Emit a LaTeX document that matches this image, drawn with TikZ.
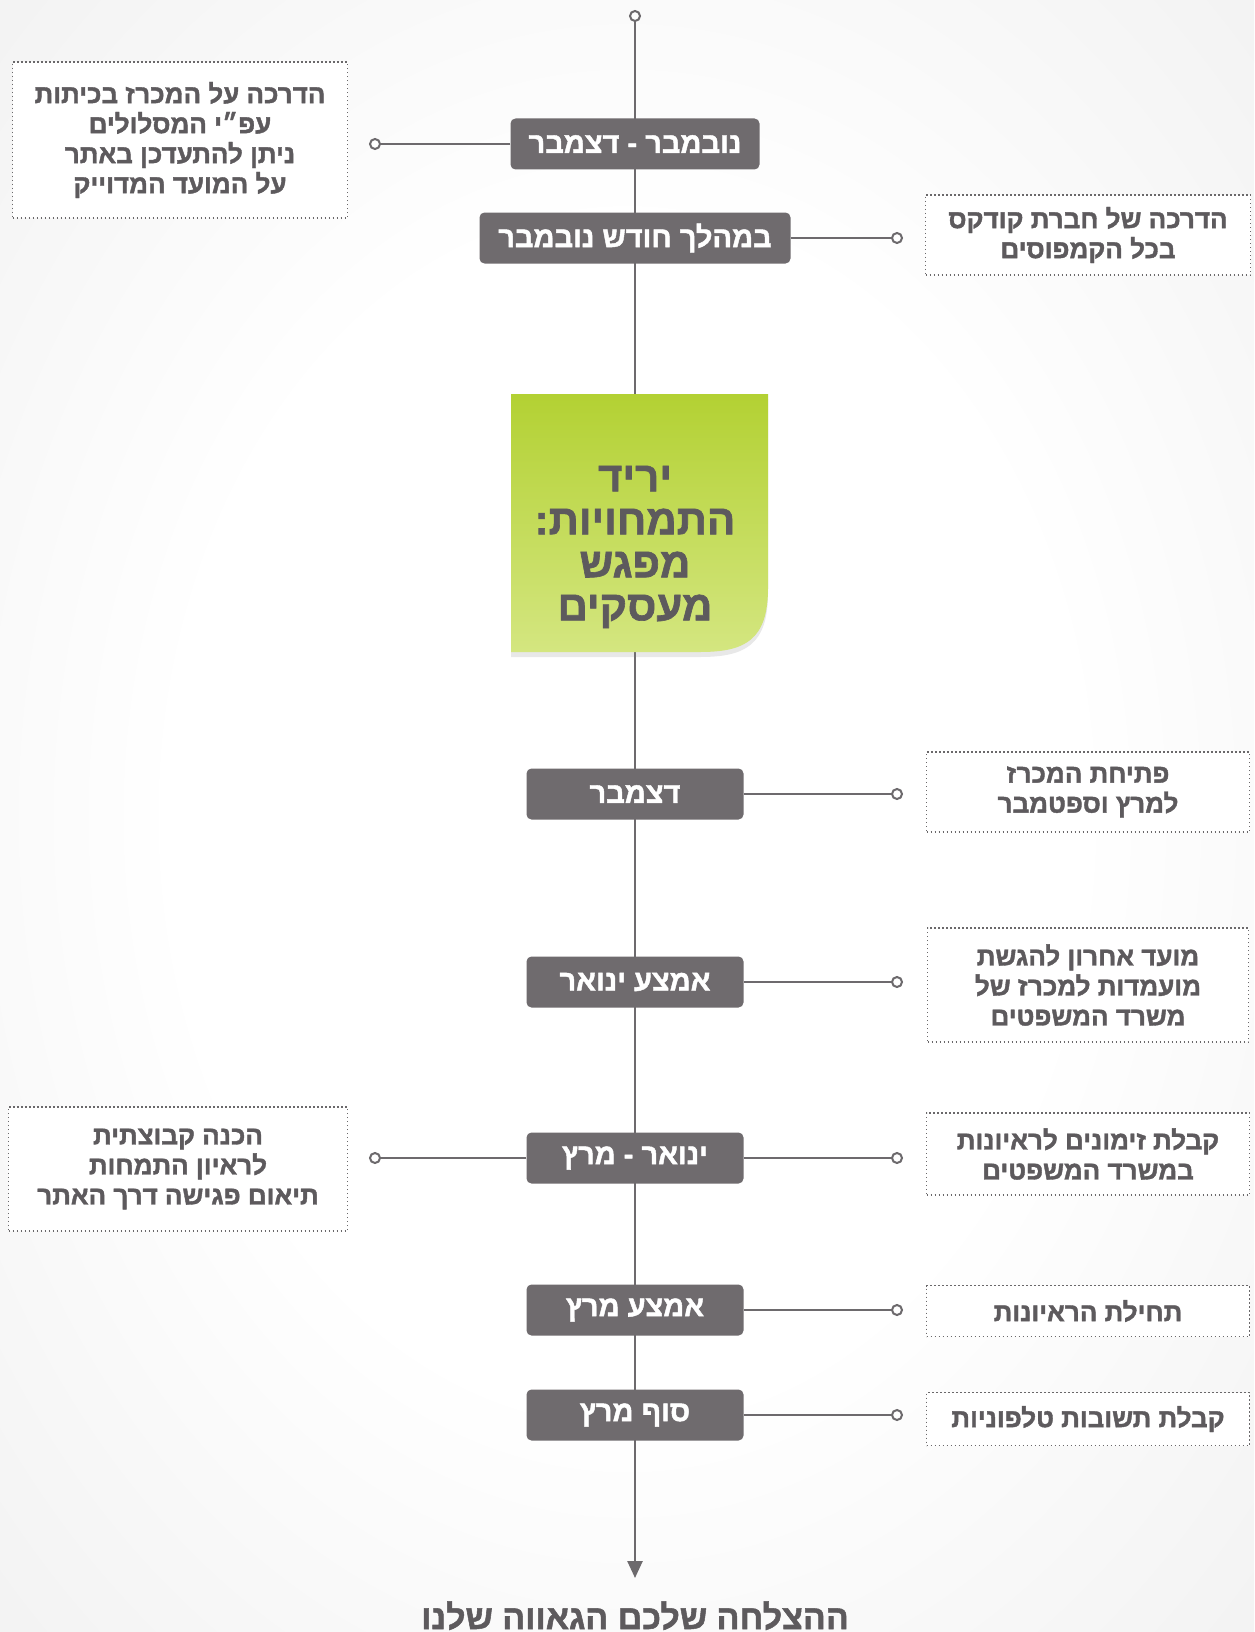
\documentclass[tikz,border=0pt]{standalone}
\usepackage{fontspec}
\newfontfamily\hebfont[Script=Hebrew, BoldFeatures={FakeBold=1.5}]{Liberation Sans}
\TeXXeTstate=1
\usetikzlibrary{arrows.meta, positioning, shadows}

\definecolor{boxgray}{HTML}{6F6B6E}
\definecolor{textgray}{HTML}{5D5A5D}
\definecolor{linegray}{HTML}{6D6A6D}
\definecolor{dotgray}{HTML}{6A686A}
\definecolor{notetop}{HTML}{B3D133}
\definecolor{notemid}{HTML}{CAE05E}
\definecolor{notebot}{HTML}{D4E680}
\newcommand{\heb}[1]{\beginR#1\endR}
\pgfdeclareradialshading{bggrad}{\pgfpoint{0bp}{0bp}}{color(0bp)=(white); color(18bp)=(white); color(50bp)=(black!9); color(70bp)=(black!11)}

\begin{document}
\begin{tikzpicture}[x=1pt, y=-1pt,
    period/.style={rectangle, rounded corners=5pt, fill=boxgray, text=white, minimum width=217pt, minimum height=51pt, inner sep=0pt, font=\hebfont\bfseries\fontsize{29}{32}\selectfont},
    info/.style={rectangle, fill=white, draw=dotgray, line width=1.3pt, dash pattern=on 1.3pt off 2.7pt, text=textgray, align=center, inner sep=0pt, font=\hebfont\bfseries\fontsize{26}{30}\selectfont},
    notetext/.style={text=textgray, align=center, font=\hebfont\bfseries\fontsize{42}{43}\selectfont},
    dot/.style={circle, draw=linegray, line width=2pt, fill=white, minimum size=10pt, inner sep=0pt},
    conn/.style={draw=linegray, line width=2.5pt}
]
% background
\shade[shading=bggrad] (0,0) rectangle (1254,1632);
\useasboundingbox (0,0) rectangle (1254,1632);

% spine
\node[dot] (top) at (635,16) {};
\coordinate (end) at (635,1578);
\draw[conn, -{Triangle[width=15pt,length=17pt]}] (top) -- (end);

% sticky note
\shade[top color=notetop, middle color=notemid, bottom color=notebot,
       drop shadow={shadow xshift=0pt, shadow yshift=-5pt, opacity=0.18}]
  (511,394) -- (768,394) -- (768,588) .. controls (768,640) and (745,652) .. (700,652) -- (511,652) -- cycle;
\node[notetext] (note) at (635,547) {\heb{יריד}\\\heb{התמחויות:}\\\heb{מפגש}\\\heb{מעסקים}};

% periods
\node[period, minimum width=249pt] (b1) at (635,144) {\heb{נובמבר - דצמבר}};
\node[period, minimum width=311pt] (b2) at (635,238) {\heb{במהלך חודש נובמבר}};
\node[period] (b3) at (635,794) {\heb{דצמבר}};
\node[period] (b4) at (635,982) {\heb{אמצע ינואר}};
\node[period] (b5) at (635,1158) {\heb{ינואר - מרץ}};
\node[period] (b6) at (635,1310) {\heb{אמצע מרץ}};
\node[period] (b7) at (635,1415) {\heb{סוף מרץ}};

% info boxes
\node[info, minimum width=335pt, minimum height=156pt] (i1) at (180,140)
  {\heb{הדרכה על המכרז בכיתות}\\\heb{עפ״י המסלולים}\\\heb{ניתן להתעדכן באתר}\\\heb{על המועד המדוייק}};
\node[info, minimum width=325pt, minimum height=80pt] (i2) at (1088,235)
  {\heb{הדרכה של חברת קודקס}\\\heb{בכל הקמפוסים}};
\node[info, minimum width=323pt, minimum height=80pt] (i3) at (1088,792)
  {\heb{פתיחת המכרז}\\\heb{למרץ וספטמבר}};
\node[info, minimum width=321pt, minimum height=114pt] (i4) at (1088,985)
  {\heb{מועד אחרון להגשת}\\\heb{מועמדות למכרז של}\\\heb{משרד המשפטים}};
\node[info, minimum width=323pt, minimum height=82pt] (i5) at (1088,1154)
  {\heb{קבלת זימונים לראיונות}\\\heb{במשרד המשפטים}};
\node[info, minimum width=339pt, minimum height=124pt] (i6) at (178,1169)
  {\heb{הכנה קבוצתית}\\\heb{לראיון התמחות}\\\heb{תיאום פגישה דרך האתר}};
\node[info, minimum width=323pt, minimum height=51pt] (i7) at (1088,1311)
  {\heb{תחילת הראיונות}};
\node[info, minimum width=323pt, minimum height=53pt] (i8) at (1088,1419)
  {\heb{קבלת תשובות טלפוניות}};

% end dots of the branches
\node[dot] (d1) at (375,144) {};
\node[dot] (d2) at (897,238) {};
\node[dot] (d3) at (897,794) {};
\node[dot] (d4) at (897,982) {};
\node[dot] (d5) at (897,1158) {};
\node[dot] (d6) at (375,1158) {};
\node[dot] (d7) at (897,1310) {};
\node[dot] (d8) at (897,1415) {};

\draw[conn] (b1) -- (d1);
\draw[conn] (b2) -- (d2);
\draw[conn] (b3) -- (d3);
\draw[conn] (b4) -- (d4);
\draw[conn] (b5) -- (d5);
\draw[conn] (b5) -- (d6);
\draw[conn] (b6) -- (d7);
\draw[conn] (b7) -- (d8);

% goal
\node[text=textgray, anchor=base, font=\hebfont\bfseries\fontsize{34}{40}\selectfont] (goal) at (635,1629)
  {\heb{ההצלחה שלכם הגאווה שלנו}};
\end{tikzpicture}
\end{document}
